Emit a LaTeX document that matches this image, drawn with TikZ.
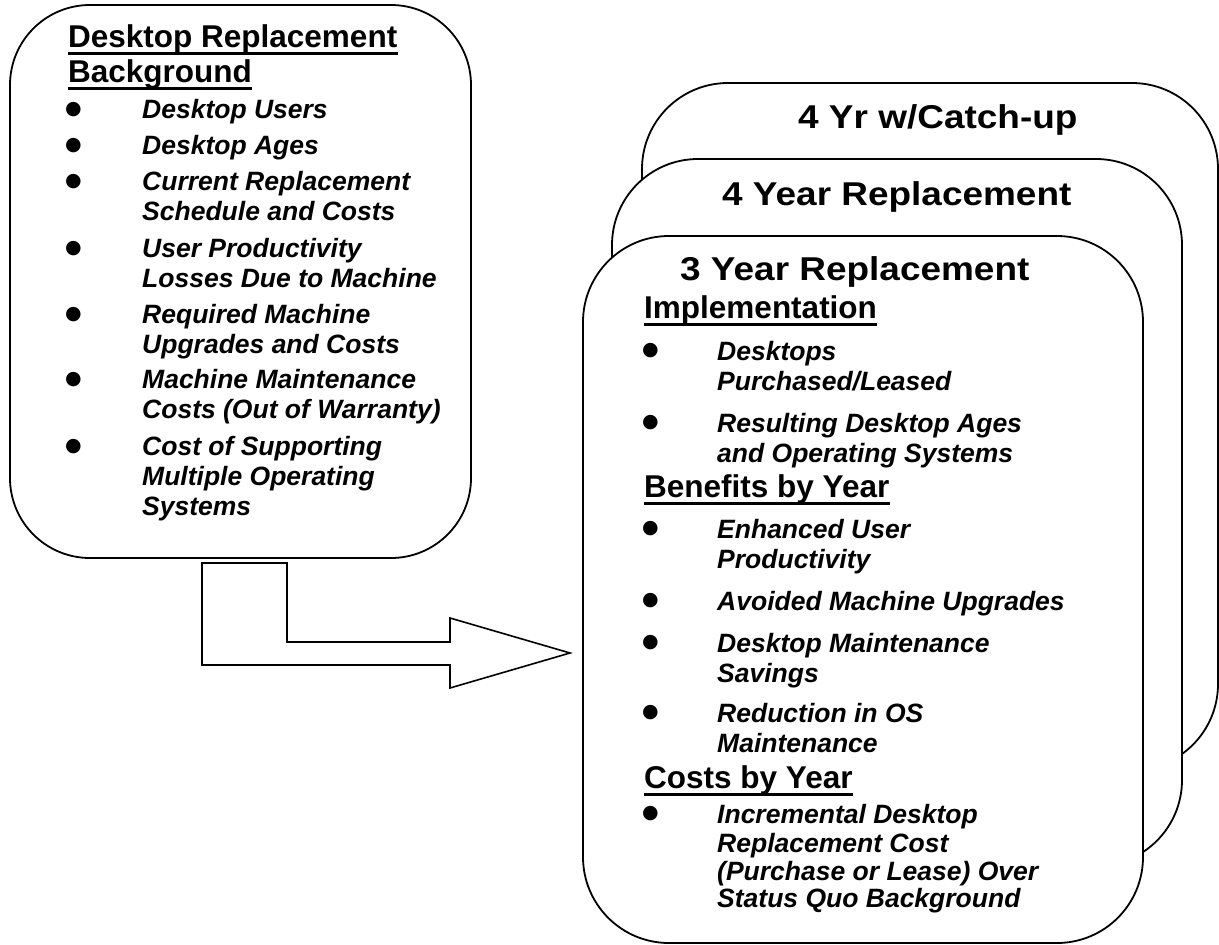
\documentclass[tikz,border=0pt]{standalone}
\usepackage{fontspec}
\setmainfont{Liberation Sans}
\newfontfamily\widesans[FakeStretch=1.12]{Liberation Sans}
\newfontfamily\dotfont{DejaVu Sans}

\begin{document}
\begin{tikzpicture}[x=1pt,y=-1pt,
card/.style={draw, line width=1.8pt, fill=white, rounded corners=86pt, inner sep=0pt},
ttl/.style={anchor=base west, inner sep=0pt, font=\widesans\bfseries\fontsize{33}{33}\selectfont},
hd/.style={anchor=base west, inner sep=0pt, font=\bfseries\fontsize{31.5}{31.5}\selectfont},
itm/.style={anchor=base west, inner sep=0pt, font=\bfseries\itshape\fontsize{26.5}{26.5}\selectfont},
blt/.style={anchor=base west, inner sep=0pt, font=\dotfont\fontsize{19}{19}\selectfont},
uline/.style={line width=3pt}]
\useasboundingbox (0,0) rectangle (1219,945);

\node[card, minimum width=576pt, minimum height=687pt] (catchup) at (930,426.5) {};
\node[card, minimum width=570pt, minimum height=707pt] (fouryr) at (897,512.5) {};
\node[card, minimum width=560pt, minimum height=707pt] (threeyr) at (863,589.5) {};
\node[card, rounded corners=80pt, minimum width=461pt, minimum height=553pt] (backgr) at (240.5,281.5) {};

\draw[line width=1.6pt, fill=white] (202,563) -- (287,563) -- (287,642) -- (450,642) -- (450,618)
  -- (570,653) -- (450,688) -- (450,665) -- (202,665) -- cycle;

\node[ttl] (catchupt) at (798,128) {4 Yr w/Catch-up};
\node[ttl] (fouryrt) at (722,205) {4 Year Replacement};
\node[ttl] (threeyrt) at (680,280) {3 Year Replacement};

\node[hd] (bgh1) at (68,47) {Desktop Replacement};
\node[hd] (bgh2) at (68,82) {Background};
\foreach \y [count=\i] in {118,154,190,257,323,388,455}
  \node[blt] (bgb\i) at (65,\y-4) {●};
\foreach \y/\t [count=\i] in {118/Desktop Users, 154/Desktop Ages, 190/Current Replacement,
  220/Schedule and Costs, 257/User Productivity, 287/Losses Due to Machine,
  323/Required Machine, 353/Upgrades and Costs, 388/Machine Maintenance,
  418/Costs (Out of Warranty), 455/Cost of Supporting, 485/Multiple Operating, 515/Systems}
  \node[itm] (bgl\i) at (142,\y) {\t};

\node[hd] (imp) at (644,318) {Implementation};
\node[hd] (ben) at (644,497) {Benefits by Year};
\node[hd] (cst) at (644,788) {Costs by Year};
\foreach \y [count=\i] in {360,432,538,610,652,722,823}
  \node[blt] (tyb\i) at (642,\y-5) {●};
\foreach \y/\t [count=\i] in {360/Desktops, 390/{Purchased/Leased}, 432/Resulting Desktop Ages,
  462/and Operating Systems, 538/Enhanced User, 568/Productivity,
  610/Avoided Machine Upgrades, 652/Desktop Maintenance, 682/Savings,
  722/Reduction in OS, 752/Maintenance, 823/Incremental Desktop,
  852/Replacement Cost, 880/(Purchase or Lease) Over, 907/Status Quo Background}
  \node[itm] (tyl\i) at (717,\y) {\t};

\foreach \h in {bgh1,bgh2,imp,ben,cst}
  \draw[uline] ([yshift=-6pt]\h.base west) -- ([yshift=-6pt]\h.base east);
\end{tikzpicture}
\end{document}
